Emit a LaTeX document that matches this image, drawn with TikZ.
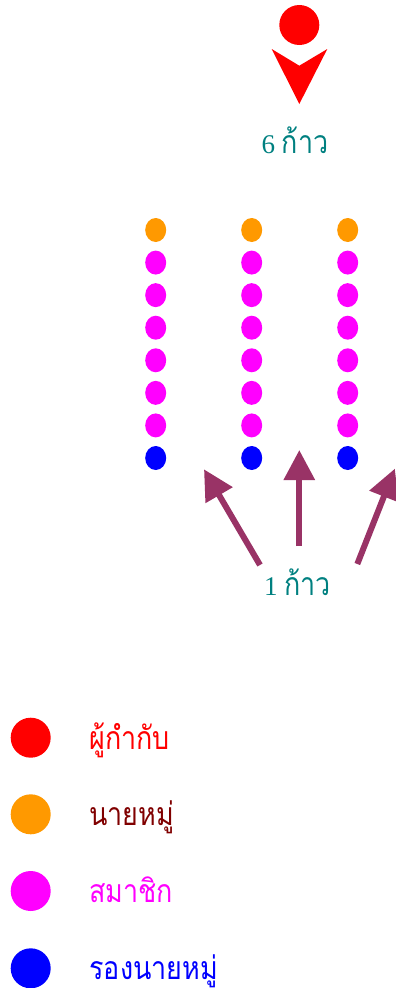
\documentclass[tikz,border=0pt]{standalone}
\usepackage{fontspec}
\setmainfont{Liberation Serif}
\newfontfamily\thai[Script=Thai,FakeStretch=0.84]{Loma}
\usetikzlibrary{arrows.meta,shapes.geometric}
\definecolor{cred}{RGB}{255,0,0}
\definecolor{corange}{RGB}{255,153,0}
\definecolor{cmag}{RGB}{255,0,255}
\definecolor{cblue}{RGB}{0,0,255}
\definecolor{cteal}{RGB}{0,128,128}
\definecolor{cbrown}{RGB}{128,0,0}
\definecolor{carrow}{RGB}{153,51,102}
\newcommand{\thaitxt}[1]{{\fontsize{32}{34}\selectfont\thai #1}}
\begin{document}
\begin{tikzpicture}[x=1pt,y=-1pt,
  dot/.style={ellipse,inner sep=0pt,minimum width=21pt,minimum height=24pt,draw=none},
  legdot/.style={circle,inner sep=0pt,minimum size=40pt,draw=none},
  stepline/.style={carrow,line width=6pt,-{Triangle[length=30pt,width=30pt]}},
  lab/.style={anchor=base west,inner sep=0pt,font=\fontsize{27}{30}\selectfont},
  leg/.style={anchor=base west,inner sep=0pt,font=\fontsize{32}{34}\selectfont\thai}]
\useasboundingbox (0,0) rectangle (396,988);
% chief
\node[circle,fill=cred,minimum size=40pt,inner sep=0pt] (chief) at (299.3,25) {};
\fill[cred] (271.7,49) -- (299.3,65.7) -- (327.3,49) -- (299.3,104) -- cycle;
\node[lab,text=cteal] (six) at (261.5,153) {6 \thaitxt{ก้าว}};
% columns
\foreach \c/\x in {1/155.7,2/251.7,3/347.7}{
  \node[dot,fill=corange] (c\c r0) at (\x,230) {};
  \foreach \r in {1,...,6}{
    \node[dot,fill=cmag] (c\c r\r) at (\x,{230+32.57*\r}) {};
  }
  \node[dot,fill=cblue] (c\c r7) at (\x,458) {};
}
% arrows
\coordinate (t1) at (260,565); \coordinate (h1) at (204,469.3);
\coordinate (t2) at (299.3,546); \coordinate (h2) at (299.3,450);
\coordinate (t3) at (357.3,564); \coordinate (h3) at (394.9,468.6);
\draw[stepline] (t1) -- (h1);
\draw[stepline] (t2) -- (h2);
\draw[stepline] (t3) -- (h3);
\node[lab,text=cteal] (one) at (264,595) {1 \thaitxt{ก้าว}};
% legend
\node[legdot,fill=cred] (l1) at (30.7,737.7) {};
\node[legdot,fill=corange] (l2) at (30.7,814.3) {};
\node[legdot,fill=cmag] (l3) at (30.7,891) {};
\node[legdot,fill=cblue] (l4) at (30.7,968.3) {};
\node[leg,text=cred] (t1l) at (89.3,749) {ผู้กำกับ};
\node[leg,text=cbrown] (t2l) at (89.3,825.5) {นายหมู่};
\node[leg,text=cmag] (t3l) at (89.3,902.5) {สมาชิก};
\node[leg,text=cblue] (t4l) at (89.3,979) {รองนายหมู่};
\end{tikzpicture}
\end{document}
